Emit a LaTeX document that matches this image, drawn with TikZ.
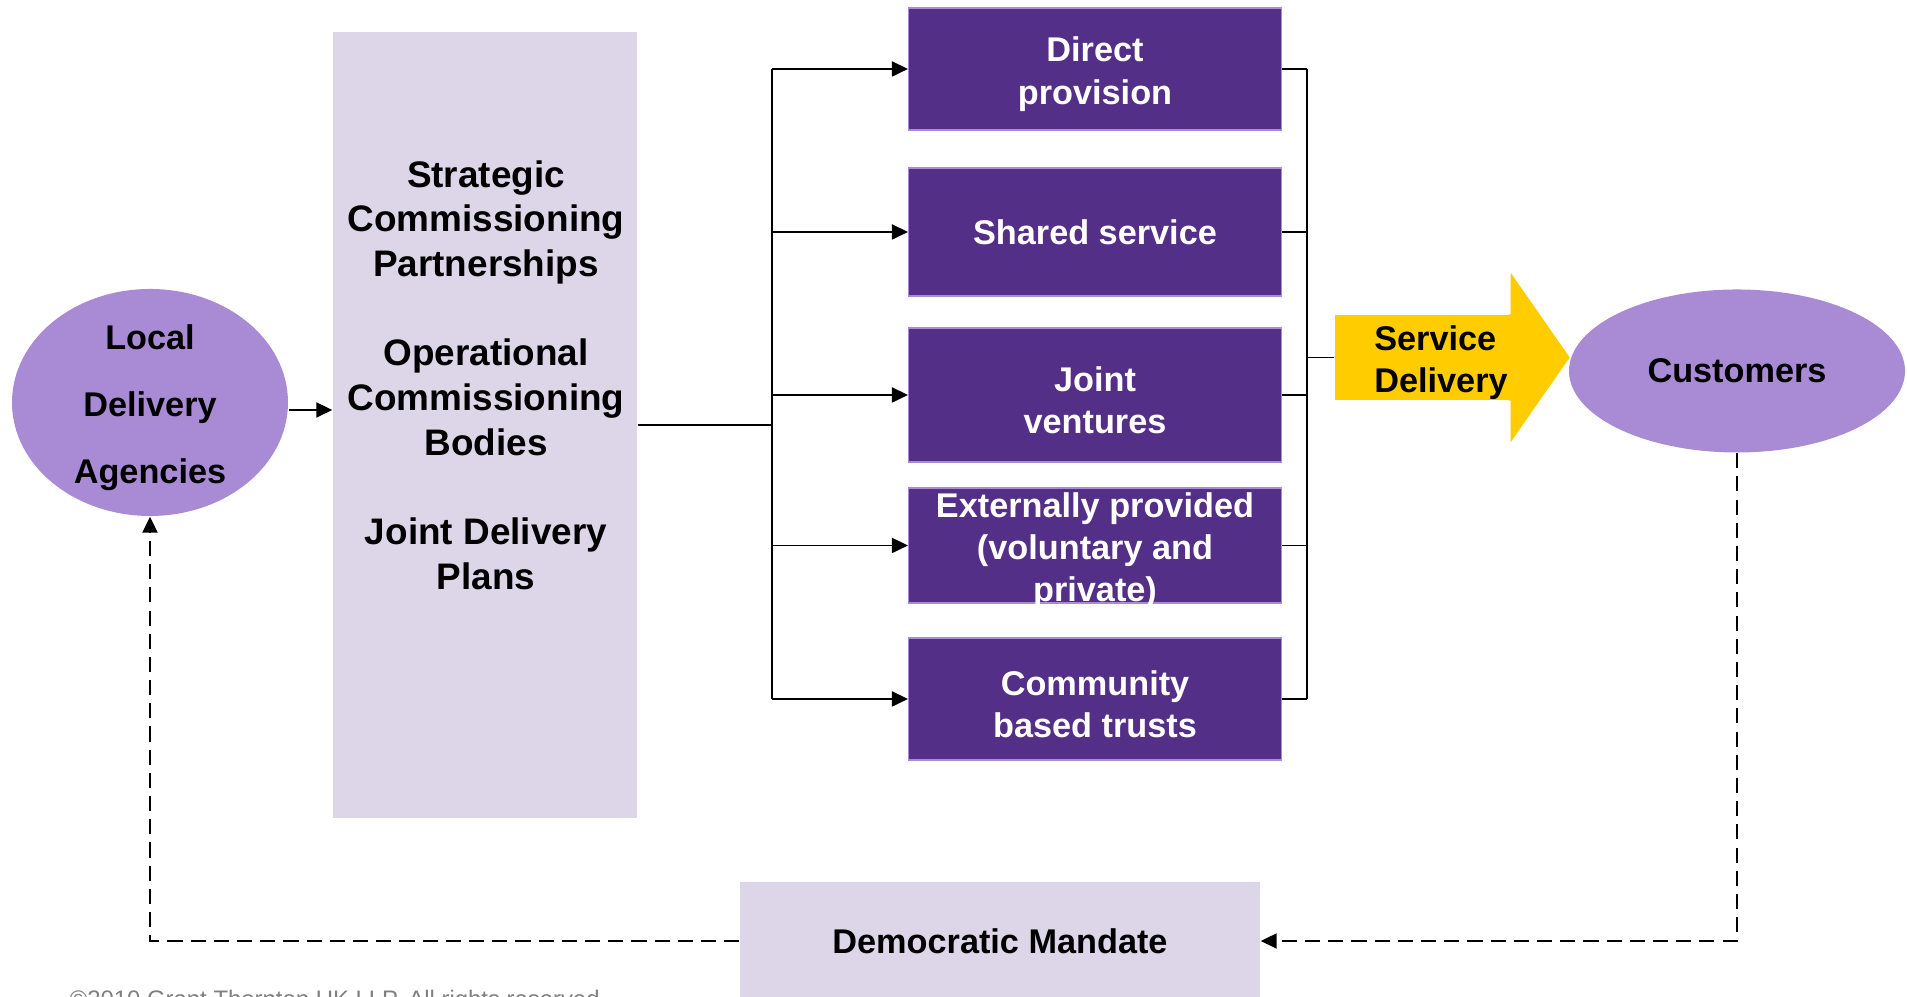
\documentclass[tikz,border=0pt]{standalone}
\usepackage{fontspec}
\setmainfont{Liberation Sans}
\usepackage{tikz}
\usetikzlibrary{arrows.meta,shapes,positioning,calc}

\definecolor{boxpurple}{RGB}{83,47,135}
\definecolor{lavender}{RGB}{220,214,232}
\definecolor{lilac}{RGB}{168,139,212}
\definecolor{sdyellow}{RGB}{255,204,0}
\newcommand{\topstrut}{\rule{0pt}{0.35cm}}

\begin{document}
\begin{tikzpicture}[
        font=\fontsize{9.75}{12}\selectfont\bfseries,
        link/.style={line width=0.55pt},
        arr/.style={link,-{Triangle[length=1.6mm,width=1.5mm]}},
        backarr/.style={arr,dash pattern=on 4.3pt off 2.3pt},
        provider/.style={rectangle,fill=boxpurple,draw=lilac,line width=0.3pt,text=white,
            minimum width=3.73cm,align=center,inner xsep=0pt,inner ysep=-0.1cm},
        lilacnode/.style={ellipse,fill=lilac,align=center,inner sep=0pt},
        lightbox/.style={rectangle,fill=lavender,inner sep=0pt,align=center}
    ]
        \useasboundingbox (0,0) rectangle (19.07,9.97);

        % left side
        \node[lilacnode,minimum width=2.76cm,minimum height=2.27cm,inner ysep=-0.1cm,
            font=\fontsize{9.75}{19}\selectfont\bfseries] (lda) at (1.50,5.945) {\topstrut Local\\Delivery\\Agencies};
        \node[lightbox,minimum width=3.04cm,minimum height=7.86cm] (scp) at (4.85,5.72) {};
        \node[align=center,font=\fontsize{10.5}{12.7}\selectfont\bfseries] (scptext) at (4.86,6.22)
            {Strategic\\Commissioning\\Partnerships\\[12.7pt]Operational\\Commissioning\\Bodies\\[12.7pt]Joint Delivery\\Plans};

        % delivery options
        \node[provider,minimum height=1.22cm] (dp) at (10.95,9.28) {\topstrut Direct\\provision};
        \node[provider,minimum height=1.28cm] (ss) at (10.95,7.65) {Shared service};
        \node[provider,minimum height=1.34cm] (jv) at (10.95,6.02) {\topstrut Joint\\ventures};
        \node[provider,minimum height=1.15cm] (ep) at (10.95,4.515) {\topstrut Externally provided\\(voluntary and\\private)};
        \node[provider,minimum height=1.22cm] (cb) at (10.95,2.98) {\topstrut Community\\based trusts};

        % service delivery arrow
        \node[rectangle,fill=sdyellow,minimum width=1.75cm,minimum height=0.85cm,inner sep=0pt] (sd) at (14.225,6.395) {};
        \fill[sdyellow] ([xshift=-0.02cm]sd.north east) -- ++(0.02,0) -- ++(0,0.415)
            -- ($(sd.east)+(0.59,0)$) -- ($(sd.south east)+(0,-0.415)$) -- ++(0,0.415) -- ++(-0.02,0) -- cycle;
        \node[align=left] (sdtext) at (14.41,6.34) {Service\\Delivery};

        \node[lilacnode,minimum width=3.36cm,minimum height=1.63cm] (cust) at (17.37,6.26) {Customers};
        \node[lightbox,minimum width=5.20cm,minimum height=1.18cm] (dm) at (10.00,0.56) {Democratic Mandate};

        % buses
        \coordinate (lb) at (7.72,0);
        \coordinate (rb) at (13.07,0);

        \draw[arr] ([yshift=-0.075cm]lda.east) -- ([yshift=-0.075cm]lda.east -| scp.west);
        \draw[link] (scp.east) -- (scp.east -| lb);
        \draw[link] (lb |- dp.west) -- (lb |- cb.west);
        \draw[link] (rb |- dp.east) -- (rb |- cb.east);
        \foreach \p in {dp,ss,jv,ep,cb} {
            \draw[arr] (lb |- \p.west) -- (\p.west);
            \draw[link] (\p.east) -- (\p.east -| rb);
        }
        \draw[link] (rb |- sd.west) -- (sd.west);

        % feedback loop
        \draw[backarr] (cust.south) |- (dm.east);
        \draw[backarr] (dm.west) -| (lda.south);

        \node[font=\fontsize{6.8}{8}\selectfont,text=gray,anchor=base west,inner sep=0pt] (copy) at (0.69,-0.11)
            {©2010 Grant Thornton UK LLP. All rights reserved};
\end{tikzpicture}
\end{document}
